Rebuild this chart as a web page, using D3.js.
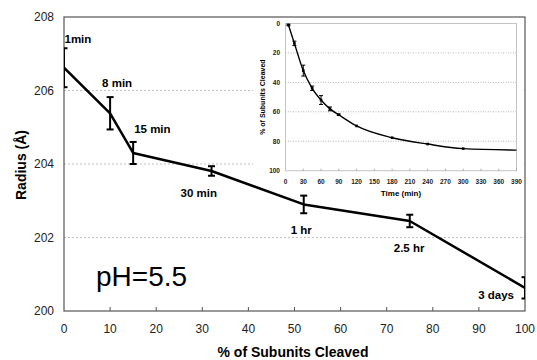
<!DOCTYPE html>
<html>
<head>
<meta charset="utf-8">
<script src="https://cdn.jsdelivr.net/npm/d3@7"></script>
<style>
  body { margin: 0; background: #fff; }
  svg { font-family: "Liberation Sans", Arial, sans-serif; }
</style>
</head>
<body>
<div id="chart"></div>
<script>
// main chart: radius vs % cleaved
const labels = ["1min", "8 min", "15 min", "30 min", "1 hr", "2.5 hr", "3 days"];
const cleaved = [0, 10, 15, 32, 52, 75, 100];
const radius = [206.62, 205.38, 204.30, 203.81, 202.90, 202.45, 200.63];
const radiusErr = [0.53, 0.44, 0.30, 0.13, 0.24, 0.17, 0.29];
const xTicks = [0, 10, 20, 30, 40, 50, 60, 70, 80, 90, 100];
const yTicks = [200, 202, 204, 206, 208];

// inset: % cleaved vs time
const insetTime = [5, 15, 30, 45, 60, 75, 90, 120, 180, 240, 300, 390];
const insetPct = [1, 13.5, 32, 44, 52, 58, 62, 69.6, 77.6, 81.9, 85, 86];
const insetErr = [0.5, 1.5, 3.7, 1.5, 3, 1.3, 0.5, 0, 0, 0, 0, 0];
const insetXTicks = d3.range(0, 391, 30);
const insetYTicks = [0, 20, 40, 60, 80, 100];

// label offsets from their point (layout only)
const labelPos = [
  { dx: 0.5, dy: -25, anchor: "start" },
  { dx: -8, dy: -26, anchor: "start" },
  { dx: 1, dy: -20, anchor: "start" },
  { dx: -31, dy: 26, anchor: "start" },
  { dx: -13, dy: 30, anchor: "start" },
  { dx: -16, dy: 31, anchor: "start" },
  { dx: -11, dy: 11, anchor: "end" }
];

const W = 537, H = 360;
const svg = d3.select("#chart").append("svg")
  .attr("width", W).attr("height", H);

const x = d3.scaleLinear().domain([0, 100]).range([64, 525]);
const y = d3.scaleLinear().domain([200, 208]).range([311, 17]);

// gridlines
svg.append("g").selectAll("line")
  .data(yTicks.filter(d => d > 200 && d < 208))
  .join("line")
  .attr("x1", x(0)).attr("x2", x(100))
  .attr("y1", d => y(d)).attr("y2", d => y(d))
  .attr("stroke", "#b0b0b0").attr("stroke-width", 0.8)
  .attr("stroke-dasharray", "2,2");

// frame
svg.append("rect")
  .attr("x", x(0)).attr("y", y(208))
  .attr("width", x(100) - x(0)).attr("height", y(200) - y(208))
  .attr("fill", "none").attr("stroke", "#555").attr("stroke-width", 1.2);

// x ticks (inward)
svg.append("g").selectAll("line")
  .data(xTicks.slice(1, -1))
  .join("line")
  .attr("x1", d => x(d)).attr("x2", d => x(d))
  .attr("y1", y(200)).attr("y2", y(200) - 4)
  .attr("stroke", "#555").attr("stroke-width", 1);

svg.append("g").selectAll("text")
  .data(xTicks)
  .join("text")
  .attr("x", d => x(d)).attr("y", 333)
  .attr("text-anchor", "middle")
  .attr("font-size", 12).attr("fill", "#222")
  .text(d => d);

svg.append("g").selectAll("text")
  .data(yTicks)
  .join("text")
  .attr("x", 54).attr("y", d => y(d))
  .attr("dy", "0.35em")
  .attr("text-anchor", "end")
  .attr("font-size", 12).attr("fill", "#222")
  .text(d => d);

// axis titles
svg.append("text")
  .attr("x", 293).attr("y", 357)
  .attr("text-anchor", "middle")
  .attr("font-size", 14).attr("font-weight", "bold")
  .text("% of Subunits Cleaved");

svg.append("text")
  .attr("transform", "translate(26,165) rotate(-90)")
  .attr("text-anchor", "middle")
  .attr("font-size", 14).attr("font-weight", "bold")
  .text("Radius (Å)");

// inset background
const ix = d3.scaleLinear().domain([0, 390]).range([285.5, 516.5]);
const iy = d3.scaleLinear().domain([0, 100]).range([23.5, 170.7]);

svg.append("rect")
  .attr("x", 253).attr("y", y(208) + 1)
  .attr("width", x(100) - 1 - 253).attr("height", 172 - y(208))
  .attr("fill", "#fff");

// main series, clipped to plot area
svg.append("clipPath").attr("id", "plotClip")
  .append("rect")
  .attr("x", x(0)).attr("y", y(208))
  .attr("width", x(100) - x(0)).attr("height", y(200) - y(208));

const main = svg.append("g").attr("clip-path", "url(#plotClip)");
const pts = cleaved.map((c, i) => ({ c, r: radius[i], e: radiusErr[i] }));

main.append("path")
  .datum(pts)
  .attr("fill", "none").attr("stroke", "#000").attr("stroke-width", 2.5)
  .attr("stroke-linejoin", "round")
  .attr("d", d3.line().x(d => x(d.c)).y(d => y(d.r)));

const eb = main.append("g").attr("stroke", "#000").attr("stroke-width", 2);
pts.forEach(d => {
  const cx = x(d.c);
  eb.append("line").attr("x1", cx).attr("x2", cx)
    .attr("y1", y(d.r - d.e)).attr("y2", y(d.r + d.e));
  [d.r - d.e, d.r + d.e].forEach(v => {
    eb.append("line").attr("x1", cx - 3.5).attr("x2", cx + 3.5)
      .attr("y1", y(v)).attr("y2", y(v));
  });
});

// point labels
svg.append("g").selectAll("text")
  .data(pts)
  .join("text")
  .attr("x", (d, i) => x(d.c) + labelPos[i].dx)
  .attr("y", (d, i) => y(d.r) + labelPos[i].dy)
  .attr("text-anchor", (d, i) => labelPos[i].anchor)
  .attr("font-size", 11.5).attr("font-weight", "bold")
  .text((d, i) => labels[i]);

svg.append("text")
  .attr("x", 96).attr("y", 286)
  .attr("font-size", 28)
  .text("pH=5.5");

// ---- inset ----
const inset = svg.append("g");

inset.append("g").selectAll("line")
  .data(insetYTicks.slice(1, -1))
  .join("line")
  .attr("x1", ix(0)).attr("x2", ix(390))
  .attr("y1", d => iy(d)).attr("y2", d => iy(d))
  .attr("stroke", "#999").attr("stroke-width", 0.7)
  .attr("stroke-dasharray", "1,1.5");

inset.append("rect")
  .attr("x", ix(0)).attr("y", iy(0))
  .attr("width", ix(390) - ix(0)).attr("height", iy(100) - iy(0))
  .attr("fill", "none").attr("stroke", "#c4c4c4").attr("stroke-width", 1);

inset.append("g").selectAll("line")
  .data(insetXTicks.slice(1))
  .join("line")
  .attr("x1", d => ix(d)).attr("x2", d => ix(d))
  .attr("y1", iy(100)).attr("y2", iy(100) - 2)
  .attr("stroke", "#999").attr("stroke-width", 0.8);

inset.append("g").selectAll("text")
  .data(insetXTicks)
  .join("text")
  .attr("x", d => ix(d)).attr("y", 183.5)
  .attr("text-anchor", "middle")
  .attr("font-size", 6.5).attr("font-weight", "bold").attr("fill", "#222")
  .text(d => d);

inset.append("g").selectAll("text")
  .data(insetYTicks)
  .join("text")
  .attr("x", 280).attr("y", d => iy(d))
  .attr("dy", "0.35em")
  .attr("text-anchor", "end")
  .attr("font-size", 6.5).attr("font-weight", "bold").attr("fill", "#222")
  .text(d => d);

inset.append("text")
  .attr("x", (ix(0) + ix(390)) / 2).attr("y", 196)
  .attr("text-anchor", "middle")
  .attr("font-size", 8).attr("font-weight", "bold")
  .text("Time (min)");

inset.append("text")
  .attr("transform", `translate(265,${(iy(0) + iy(100)) / 2}) rotate(-90)`)
  .attr("text-anchor", "middle")
  .attr("font-size", 7).attr("font-weight", "bold")
  .text("% of Subunits Cleaved");

const ipts = insetTime.map((t, i) => ({ t, p: insetPct[i], e: insetErr[i] }));

inset.append("path")
  .datum(ipts)
  .attr("fill", "none").attr("stroke", "#000").attr("stroke-width", 1.4)
  .attr("d", d3.line().curve(d3.curveMonotoneX).x(d => ix(d.t)).y(d => iy(d.p)));

const ieb = inset.append("g").attr("stroke", "#000").attr("stroke-width", 1);
ipts.slice(0, -1).forEach(d => {
  const cx = ix(d.t);
  if (d.e > 0) {
    ieb.append("line").attr("x1", cx).attr("x2", cx)
      .attr("y1", iy(d.p - d.e)).attr("y2", iy(d.p + d.e));
    [d.p - d.e, d.p + d.e].forEach(v => {
      ieb.append("line").attr("x1", cx - 2).attr("x2", cx + 2)
        .attr("y1", iy(v)).attr("y2", iy(v));
    });
  }
});

inset.append("g").selectAll("rect")
  .data(ipts.slice(0, -1))
  .join("rect")
  .attr("x", d => ix(d.t) - 1.3).attr("y", d => iy(d.p) - 1.3)
  .attr("width", 2.6).attr("height", 2.6)
  .attr("fill", "#000");
</script>
</body>
</html>
